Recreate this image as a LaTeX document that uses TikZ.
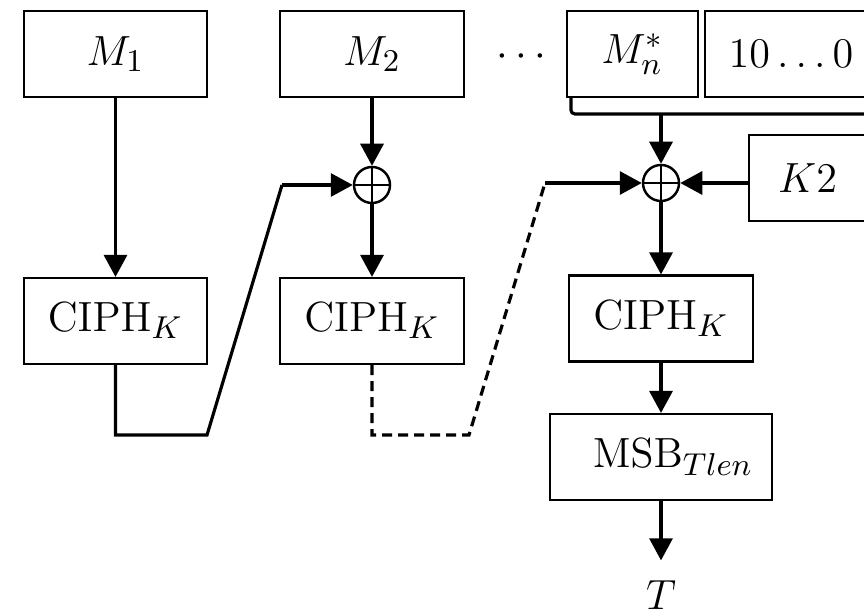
\documentclass[tikz,border=0pt]{standalone}
\usepackage{amsmath}
\usetikzlibrary{positioning,arrows.meta}

\begin{document}
\begin{tikzpicture}[x=0.01cm,y=-0.01cm,
		font=\fontsize{12.5}{15}\selectfont,
		blk/.style={draw, line width=0.6pt, minimum width=#1, minimum height=0.86cm, inner sep=0pt},
		blk/.default=1.84cm,
		xorop/.style={circle, draw, line width=0.7pt, minimum size=0.36cm, inner sep=0pt,
			path picture={\draw[line width=0.7pt] (path picture bounding box.north) -- (path picture bounding box.south)
				(path picture bounding box.west) -- (path picture bounding box.east);}},
		wire/.style={line width=0.9pt},
		dashwire/.style={wire, dash pattern=on 0.1cm off 0.06cm},
		arr/.style={wire, -{Triangle[length=0.22cm,width=0.23cm]}}]
				\useasboundingbox (0,0) rectangle (864,613);
				\clip (0,0) rectangle (864,613);

				%Nodes
				\node[blk=1.83cm]	(m1)	at	(115.5,54)	{$M_1$};
				\node[blk]		(m2)	at	(372,54)	{$M_2$};
				\node			(dots)	at	(525,57)	{$\cdots$};
				\node[blk=1.31cm]	(mn)	at	(632.5,54)	{$M_n^*$};
				\node[blk=1.72cm]	(pad)	at	(791,54)	{$10\ldots0$};
				\node[xorop]		(x2)	at	(372,185)	{};
				\node[xorop]		(x3)	at	(661,183)	{};
				\node[blk=1.17cm]	(k2)	at	(807.5,178)	{$K2$};
				\node[blk=1.83cm]	(c1)	at	(115.5,321)	{$\mathrm{CIPH}_K$};
				\node[blk]		(c2)	at	(372,321)	{$\mathrm{CIPH}_K$};
				\node[blk]		(c3)	at	(661,318.5)	{$\mathrm{CIPH}_K$};
				\node[blk=2.22cm]	(msb)	at	(661,457)	{\hspace{0.24cm}$\mathrm{MSB}_{Tlen}$};
				\node[inner sep=1pt]	(t)	at	(661,595)	{$T$};

				\coordinate      (f1) 	at 	(207,435);
				\coordinate      (g1) 	at 	(282,185);
				\coordinate      (f2) 	at 	(469,435);
				\coordinate      (g2) 	at 	(545,183);
				\coordinate      (br) 	at 	(880,114);
				\coordinate      (brj) 	at 	(661,114);

				%Lines
				\draw[arr] (m1.south) -- (c1.north);
				\draw[arr] (m2.south) -- (x2.north);
				\draw[arr] (x2.south) -- (c2.north);
				\draw[wire] (c1.south) |- (f1) -- (g1);
				\draw[arr] (g1) -- (x2.west);
				\draw[dashwire] (c2.south) |- (f2) -- (g2);
				\draw[arr] (g2) -- (x3.west);
				\draw[wire, rounded corners=0.04cm] ([xshift=0.05cm]mn.south west) |- (br);
				\draw[arr] (brj) -- (x3.north);
				\draw[arr] (k2.west |- x3) -- (x3.east);
				\draw[arr] (x3.south) -- (c3.north);
				\draw[arr] (c3.south) -- (msb.north);
				\draw[arr, shorten >=0.16cm] (msb.south) -- (t.north);

\end{tikzpicture}
\end{document}
